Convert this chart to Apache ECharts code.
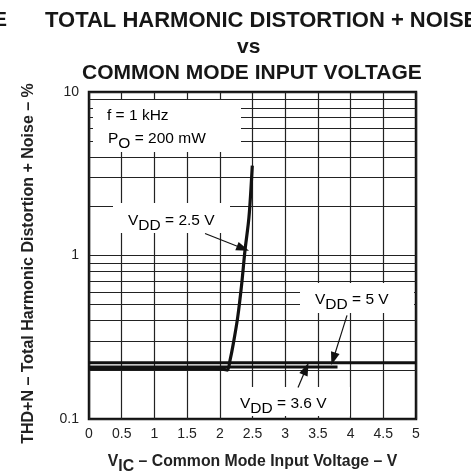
<!DOCTYPE html>
<html lang="en">
  <head>
    <meta charset="UTF-8" />
    <title>THD+N vs Common Mode Input Voltage</title>
    <script src="https://cdn.jsdelivr.net/npm/echarts@6/dist/echarts.min.js"></script>
    <style>
      html,
      body {
        margin: 0;
        padding: 0;
        background: #fff;
      }
      #main {
        width: 471px;
        height: 475px;
      }
    </style>
  </head>
  <body>
    <div id="main"></div>
    <script>
      var FONT = "'Liberation Sans', Arial, sans-serif";

      // y gridlines between the decades (log axis)
      var minorGrid = [0.2, 0.3, 0.4, 0.5, 0.6, 0.7, 0.8, 0.9, 2, 3, 4, 5, 6, 7, 8, 9];

      // curves, [V_IC, THD+N %]
      var vdd5 = [[0, 0.221], [5, 0.221]];
      var vdd36 = [[0, 0.208], [3.8, 0.208]];
      var vdd25 = [
        [0, 0.203], [1.9, 0.203], [2.05, 0.202], [2.115, 0.199], [2.156, 0.228],
        [2.206, 0.288], [2.274, 0.42], [2.335, 0.671], [2.385, 1.073],
        [2.446, 1.715], [2.497, 3.55]
      ];

      // annotation arrows, [from, to] in data units
      var arrow25 = [[1.774, 1.363], [2.355, 1.104]];
      var arrow5 = [[3.945, 0.43], [3.736, 0.2334]];
      var arrow36 = [[3.196, 0.156], [3.318, 0.203]];

      var chart = echarts.init(document.getElementById("main"));

      var rich = {
        n: { fontFamily: FONT, fontSize: 15.5, color: "#222", lineHeight: 18, verticalAlign: "top" },
        sub: { fontFamily: FONT, fontSize: 15.5, color: "#222", lineHeight: 18, verticalAlign: "top", padding: [5, 0, 0, 0] }
      };

      function box(x, y, w, h) {
        return { type: "rect", z: 3, silent: true, shape: { x: x, y: y, width: w, height: h }, style: { fill: "#fff" } };
      }
      function label(x, y, text) {
        return {
          type: "text", z: 4, silent: true, x: x, y: y,
          style: { text: text, rich: rich, align: "left", verticalAlign: "top" }
        };
      }
      function arrowLine(a) {
        return [
          { coord: a[0], symbol: "none" },
          { coord: a[1], symbol: "triangle", symbolSize: [9, 13] }
        ];
      }

      var titleStyle = { fontFamily: FONT, fontSize: 21, fontWeight: "bold", color: "#161616" };
      var nameRich = {
        n: { fontFamily: FONT, fontSize: 15.8, fontWeight: "bold", color: "#222", lineHeight: 18, verticalAlign: "top" },
        sub: { fontFamily: FONT, fontSize: 15.8, fontWeight: "bold", color: "#222", lineHeight: 18, verticalAlign: "top", padding: [5, 0, 0, 0] }
      };

      chart.setOption({
        animation: false,
        backgroundColor: "#fff",
        title: [
          { text: "E", left: -7, top: 10, padding: 0, textStyle: titleStyle },
          { text: "TOTAL HARMONIC DISTORTION + NOISE", left: 45, top: 10, padding: 0, textStyle: { fontFamily: FONT, fontSize: 22, fontWeight: "bold", color: "#161616" } },
          { text: "vs", left: 237, top: 37, padding: 0, textStyle: titleStyle },
          { text: "COMMON MODE INPUT VOLTAGE", left: 82, top: 63, padding: 0, textStyle: titleStyle }
        ],
        grid: {
          left: 89, right: 55, top: 92, bottom: 56,
          outerBoundsMode: "none",
          show: true, borderColor: "#111", borderWidth: 2.5, backgroundColor: "transparent"
        },
        xAxis: {
          type: "value", min: 0, max: 5, interval: 0.5,
          name: "{n|V}{sub|IC}{n| – Common Mode Input Voltage – V}",
          nameLocation: "middle", nameGap: 35,
          nameTextStyle: { rich: nameRich },
          axisLine: { show: false },
          axisTick: { show: false },
          axisLabel: { fontFamily: FONT, fontSize: 14, color: "#222", margin: 8 },
          splitLine: { show: true, lineStyle: { color: "#222", width: 1.2 } }
        },
        yAxis: {
          type: "log", logBase: 10, min: 0.1, max: 10,
          name: "THD+N – Total Harmonic Distortion + Noise – %",
          nameLocation: "middle", nameGap: 52, nameRotate: 90,
          nameTextStyle: { fontFamily: FONT, fontSize: 16, fontWeight: "bold", color: "#222", padding: [0, 16, 0, 0] },
          axisLine: { show: false },
          axisTick: { show: false },
          axisLabel: { fontFamily: FONT, fontSize: 14, color: "#222", margin: 10 },
          splitLine: { show: true, lineStyle: { color: "#222", width: 1.2 } }
        },
        series: [
          {
            name: "grid", type: "line", data: [], z: 1, silent: true,
            markLine: {
              z: 1, silent: true, symbol: "none", animation: false,
              label: { show: false },
              lineStyle: { color: "#222", width: 1.2, type: "solid" },
              data: minorGrid.map(function (v) { return { yAxis: v }; })
            }
          },
          {
            name: "VDD = 5 V", type: "line", data: vdd5, z: 5, showSymbol: false,
            lineStyle: { color: "#111", width: 3 }
          },
          {
            name: "VDD = 3.6 V", type: "line", data: vdd36, z: 5, showSymbol: false,
            lineStyle: { color: "#111", width: 3 }
          },
          {
            name: "VDD = 2.5 V", type: "line", data: vdd25, z: 5, showSymbol: false, smooth: 0.3,
            lineStyle: { color: "#111", width: 3.2 }
          },
          {
            name: "arrows", type: "line", data: [], z: 6, silent: true,
            markLine: {
              z: 6, silent: true, animation: false,
              label: { show: false },
              lineStyle: { color: "#111", width: 1.2, type: "solid" },
              itemStyle: { color: "#111" },
              data: [arrowLine(arrow25), arrowLine(arrow5), arrowLine(arrow36)]
            }
          }
        ],
        graphic: [
          box(93, 100, 148, 52),
          label(107, 108, "{n|f = 1 kHz}"),
          label(108, 131, "{n|P}{sub|O}{n| = 200 mW}"),
          box(113, 203, 117, 30),
          label(128, 213, "{n|V}{sub|DD}{n| = 2.5 V}"),
          box(300, 283, 114, 30),
          label(315, 292, "{n|V}{sub|DD}{n| = 5 V}"),
          box(222, 387, 128, 29),
          label(240, 396, "{n|V}{sub|DD}{n| = 3.6 V}")
        ]
      });
    </script>
  </body>
</html>
